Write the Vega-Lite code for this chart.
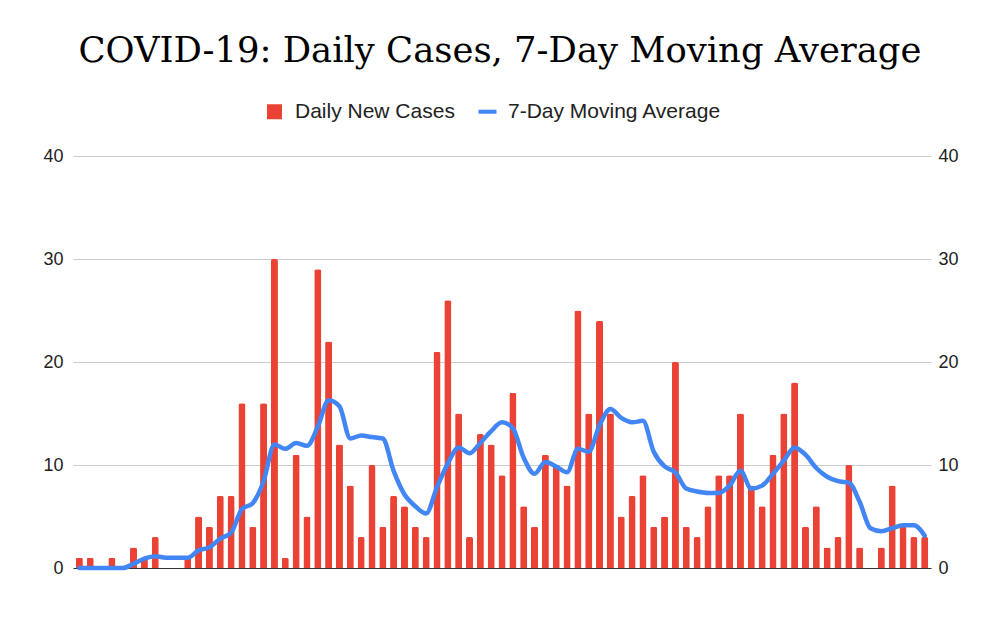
{
  "$schema": "https://vega.github.io/schema/vega-lite/v6.json",
  "width": 858,
  "height": 412,
  "autosize": {"type": "none"},
  "padding": {"left": 73, "top": 156, "right": 66, "bottom": 67},
  "background": "white",
  "title": {
    "text": "COVID-19: Daily Cases, 7-Day Moving Average",
    "font": "DejaVu Serif",
    "fontSize": 35.4,
    "fontWeight": "normal",
    "color": "#000000",
    "anchor": "middle",
    "dx": -2,
    "offset": 32
  },
  "data": {
    "values": [
      {"day": 0, "cases": 1, "ma": 0},
      {"day": 1, "cases": 1, "ma": 0},
      {"day": 2, "cases": 0, "ma": 0},
      {"day": 3, "cases": 1, "ma": 0},
      {"day": 4, "cases": 0, "ma": 0},
      {"day": 5, "cases": 2, "ma": 0.4},
      {"day": 6, "cases": 1, "ma": 0.9},
      {"day": 7, "cases": 3, "ma": 1.14},
      {"day": 8, "cases": 0, "ma": 1},
      {"day": 9, "cases": 0, "ma": 1},
      {"day": 10, "cases": 1, "ma": 1},
      {"day": 11, "cases": 5, "ma": 1.71},
      {"day": 12, "cases": 4, "ma": 2},
      {"day": 13, "cases": 7, "ma": 2.86},
      {"day": 14, "cases": 7, "ma": 3.43},
      {"day": 15, "cases": 16, "ma": 5.71},
      {"day": 16, "cases": 4, "ma": 6.29},
      {"day": 17, "cases": 16, "ma": 8.43},
      {"day": 18, "cases": 30, "ma": 12},
      {"day": 19, "cases": 1, "ma": 11.57},
      {"day": 20, "cases": 11, "ma": 12.14},
      {"day": 21, "cases": 5, "ma": 11.86},
      {"day": 22, "cases": 29, "ma": 13.71},
      {"day": 23, "cases": 22, "ma": 16.29},
      {"day": 24, "cases": 12, "ma": 15.71},
      {"day": 25, "cases": 8, "ma": 12.57},
      {"day": 26, "cases": 3, "ma": 12.86},
      {"day": 27, "cases": 10, "ma": 12.71},
      {"day": 28, "cases": 4, "ma": 12.57},
      {"day": 29, "cases": 7, "ma": 9.43},
      {"day": 30, "cases": 6, "ma": 7.14},
      {"day": 31, "cases": 4, "ma": 6},
      {"day": 32, "cases": 3, "ma": 5.29},
      {"day": 33, "cases": 21, "ma": 7.86},
      {"day": 34, "cases": 26, "ma": 10.14},
      {"day": 35, "cases": 15, "ma": 11.71},
      {"day": 36, "cases": 3, "ma": 11.14},
      {"day": 37, "cases": 13, "ma": 12.14},
      {"day": 38, "cases": 12, "ma": 13.29},
      {"day": 39, "cases": 9, "ma": 14.14},
      {"day": 40, "cases": 17, "ma": 13.57},
      {"day": 41, "cases": 6, "ma": 10.71},
      {"day": 42, "cases": 4, "ma": 9.14},
      {"day": 43, "cases": 11, "ma": 10.29},
      {"day": 44, "cases": 10, "ma": 9.86},
      {"day": 45, "cases": 8, "ma": 9.29},
      {"day": 46, "cases": 25, "ma": 11.57},
      {"day": 47, "cases": 15, "ma": 11.29},
      {"day": 48, "cases": 24, "ma": 13.86},
      {"day": 49, "cases": 15, "ma": 15.43},
      {"day": 50, "cases": 5, "ma": 14.57},
      {"day": 51, "cases": 7, "ma": 14.14},
      {"day": 52, "cases": 9, "ma": 14.29},
      {"day": 53, "cases": 4, "ma": 11.29},
      {"day": 54, "cases": 5, "ma": 9.86},
      {"day": 55, "cases": 20, "ma": 9.29},
      {"day": 56, "cases": 4, "ma": 7.71},
      {"day": 57, "cases": 3, "ma": 7.43},
      {"day": 58, "cases": 6, "ma": 7.29},
      {"day": 59, "cases": 9, "ma": 7.29},
      {"day": 60, "cases": 9, "ma": 8},
      {"day": 61, "cases": 15, "ma": 9.43},
      {"day": 62, "cases": 8, "ma": 7.71},
      {"day": 63, "cases": 6, "ma": 8},
      {"day": 64, "cases": 11, "ma": 9.14},
      {"day": 65, "cases": 15, "ma": 10.43},
      {"day": 66, "cases": 18, "ma": 11.71},
      {"day": 67, "cases": 4, "ma": 11},
      {"day": 68, "cases": 6, "ma": 9.71},
      {"day": 69, "cases": 2, "ma": 8.86},
      {"day": 70, "cases": 3, "ma": 8.43},
      {"day": 71, "cases": 10, "ma": 8.29},
      {"day": 72, "cases": 2, "ma": 6.43},
      {"day": 73, "cases": 0, "ma": 3.86},
      {"day": 74, "cases": 2, "ma": 3.57},
      {"day": 75, "cases": 8, "ma": 3.86},
      {"day": 76, "cases": 4, "ma": 4.14},
      {"day": 77, "cases": 3, "ma": 4.14},
      {"day": 78, "cases": 3, "ma": 3.14}
    ]
  },
  "encoding": {
    "x": {
      "field": "day",
      "type": "ordinal",
      "scale": {"paddingInner": 0.35, "paddingOuter": 0.26},
      "axis": {
        "domain": true,
        "domainColor": "#333333",
        "domainWidth": 1,
        "labels": false,
        "ticks": false,
        "grid": false,
        "title": null
      }
    }
  },
  "layer": [
    {
      "mark": {"type": "bar", "cornerRadiusEnd": 2},
      "encoding": {
        "y": {
          "field": "cases",
          "type": "quantitative",
          "scale": {"domain": [0, 40]},
          "axis": {
            "orient": "left",
            "values": [0, 10, 20, 30, 40],
            "grid": true,
            "gridColor": "#cccccc",
            "domain": false,
            "ticks": false,
            "labelPadding": 10,
            "labelFont": "Liberation Sans",
            "labelFontSize": 18,
            "labelColor": "#222222",
            "title": null
          }
        },
        "color": {
          "datum": "Daily New Cases",
          "type": "nominal",
          "scale": {
            "domain": ["Daily New Cases", "7-Day Moving Average"],
            "range": ["#EA4335", "#4285F4"]
          },
          "legend": {
            "orient": "none",
            "legendX": 191,
            "legendY": -55,
            "direction": "horizontal",
            "title": null,
            "padding": 0,
            "labelFont": "Liberation Sans",
            "labelFontSize": 21,
            "labelColor": "#222222",
            "labelLimit": 400,
            "labelOffset": 10,
            "columnPadding": 22,
            "symbolSize": 225,
            "encode": {
              "symbols": {
                "update": {
                  "shape": {"signal": "datum.value === 'Daily New Cases' ? 'square' : 'M-1.2,-0.27H1.2V0.27H-1.2Z'"},
                  "fill": {"signal": "datum.value === 'Daily New Cases' ? '#EA4335' : '#4285F4'"},
                  "strokeWidth": {"value": 0},
                  "opacity": {"value": 1},
                  "fillOpacity": {"value": 1}
                }
              }
            }
          }
        }
      }
    },
    {
      "mark": {"type": "line", "interpolate": "monotone", "strokeWidth": 4.5, "strokeJoin": "round", "strokeCap": "round"},
      "encoding": {
        "y": {
          "field": "ma",
          "type": "quantitative",
          "scale": {"domain": [0, 40]},
          "axis": {
            "orient": "right",
            "values": [0, 10, 20, 30, 40],
            "grid": false,
            "domain": false,
            "ticks": false,
            "labelPadding": 7,
            "labelFont": "Liberation Sans",
            "labelFontSize": 18,
            "labelColor": "#222222",
            "title": null
          }
        },
        "color": {"datum": "7-Day Moving Average", "type": "nominal"}
      }
    }
  ],
  "resolve": {"scale": {"y": "independent"}},
  "config": {"view": {"stroke": null}}
}
